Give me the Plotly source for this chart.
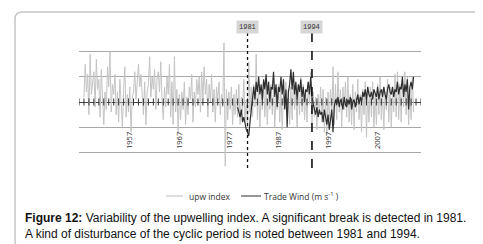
import plotly.graph_objects as go
import numpy as np

# ---------------- data (quarterly samples) ----------------
upw_start = 1948.0
upw_index = [
    0.2, 1.5, 0.4, 1.1,  -0.5, 1.9, 0.3, 0.8,  1.2, -0.2, 1.7, 0.5,  0.9, -0.6, 1.3, 0.2,
    -0.9, 0.4, -0.3, 1.4,  0.6, 2.0, -0.4, 0.7,  0.3, 1.1, -0.5, 0.4,  -0.8, 0.9, -0.2, -1.0,
    0.5, 1.4, -0.6, 0.3,  -0.4, 0.6, -1.2, 0.2,  0.4, 1.2, 0.1, 0.9,  1.5, 0.6, 1.1, 0.3,
    -0.5, 0.8, -0.9, 0.4,  0.7, 1.8, 0.2, 1.0,  0.5, 1.3, -0.3, 0.9,  1.2, 0.4, 1.6, 0.1,
    -0.7, 0.6, -0.2, 1.0,  0.3, 1.5, -0.6, 0.8,  -0.9, 1.8, -0.4, 0.5,  -1.2, 0.3, -0.7, 0.4,
    -0.3, 0.8, -0.9, 0.2,  -0.5, 0.6, 0.1, 1.1,  -0.8, 0.4, -0.2, 0.9,  0.3, 1.0, -0.4, 1.2,
    0.1, 1.4, 0.3, 0.9,  -0.6, 0.7, 0.0, 1.1,  -0.4, 0.5, -0.8, 0.6,  0.1, 0.8, -0.5, 0.3,
    -0.2, 2.35, -2.55, 0.5,  -0.7, 0.4, -0.3, 0.6,  -0.9, 0.3, -0.5, 0.5,  -0.6, 0.7, -0.9, 0.2,
    -0.4, 0.9, -0.8, 0.1,  -1.0, 1.6, -0.4, 0.6,  -0.6, 0.7, -0.2, 1.9,  -0.7, 0.5, -1.0, 0.3,
    -0.3, 0.8, -0.6, 0.5,  -0.9, 0.4, -0.3, 0.7,  -0.5, 0.6, -1.0, 0.2,  -0.3, 0.7, -0.8, 0.4,
    -1.1, 0.3, -0.2, 0.8,  -0.4, 0.5, -0.9, 0.6,  -0.7, 0.9, -0.3, 0.4,  -1.0, 0.6, -0.5, 1.0,
    -0.4, 0.7, -0.7, 0.3,  -0.8, 0.8, -0.1, 1.2,  -0.9, 0.4, -0.6, 0.2,  -1.1, 0.3, -0.5, 0.6,
    -0.8, 0.5, -1.2, 0.2,  -1.3, 0.4, -0.7, 0.5,  -0.5, 1.4, -0.9, 0.7,  -0.7, 1.2, -0.4, 0.5,
    -1.0, 0.6, -0.3, 0.8,  -0.6, 1.0, -0.8, 0.3,  -0.9, 0.7, -1.1, 0.4,  -0.4, 0.9, -0.7, 0.3,
    -1.2, 0.5, -0.5, 0.8,  -1.4, 0.4, -0.8, 0.6,  -0.6, 0.8, -1.0, 0.3,  -0.9, 0.7, -0.5, 1.0,
    -0.7, 0.5, -1.1, 0.4,  -0.3, 0.9, -0.8, 0.6,  -1.0, 0.4, -0.4, 1.1,  -0.6, 1.2, -0.7, 0.7,
    -0.8, 0.8, -0.2, 1.2,  -0.5, 1.0, -0.9, 0.5,  -0.7, 1.0, -0.4,
]
wind_start = 1979.0
trade_wind = [
    -0.2, -0.4, -0.6, -0.3,  -0.8, -0.6, -0.9, -1.1,  -1.2, -1.35, -0.8, -0.3,
    0.2, 0.6, 0.1, 0.8,  0.4, 1.0, 0.3, 0.7,  0.1, 0.9, 0.5, 1.1,  0.3, 0.8, 0.0, 0.6,
    0.5, 1.2, 0.2, 0.7,  -0.2, 0.6, 0.4, 1.0,  0.3, 0.9, -0.3, 0.5,  -1.0, 0.4, 0.7, 1.3,
    0.5, 1.2, 0.3, 0.8,  0.1, 0.7, 0.4, 0.9,  0.2, 0.6, 0.0, 0.5,  0.4, 0.8, 0.3, 1.0,
    0.2, -0.1, -0.3, -0.5,  -0.2, -0.6, -0.3, -0.5,  -0.4, -0.8, -0.3, -0.6,  -0.9, -0.5, -1.1, -0.7,
    -0.3, -1.2, -0.2, 0.1,  -0.1, 0.2, -0.2, 0.1,  0.0, -0.3, 0.2, -0.1,  -0.2, 0.1, -0.1, 0.2,
    -0.3, 0.0, 0.1, -0.2,  0.1, 0.3, -0.1, 0.2,  0.0, 0.4, 0.2, 0.5,  0.1, 0.6, 0.3, 0.2,
    0.4, 0.1, 0.5, 0.3,  0.2, 0.6, 0.1, 0.4,  0.5, 0.2, 0.6, 0.3,  0.1, 0.5, 0.7, 0.4,
    0.3, 0.6, 0.2, 0.5,  0.4, 0.8, 0.3, 0.6,  0.5, 1.0, 0.2, 0.7,  0.4, 0.9, -0.3, 0.6,
    0.8, 0.5, 1.0,
]
tick_labels = ["1957", "1967", "1977", "1987", "1997", "2007"]
break_years = [1981, 1994]
break_dash = ["dot", "dash"]
x_range = [1947, 2016]
y_range = [-3.02, 3.02]

upw_x = upw_start + 0.25 * np.arange(len(upw_index))
wind_x = wind_start + 0.25 * np.arange(len(trade_wind))

fig = go.Figure()
fig.add_trace(go.Scatter(x=upw_x, y=upw_index, mode="lines", name="upw index",
                         line=dict(color="#c4c4c4", width=1), showlegend=False))
fig.add_trace(go.Scatter(x=wind_x, y=trade_wind, mode="lines", name="Trade Wind (m s-1)",
                         line=dict(color="#2e2e2e", width=1.2), showlegend=False))
# cross tick marks on the zero axis (one per year)
years = list(range(x_range[0], x_range[1] + 1))
fig.add_trace(go.Scatter(x=years, y=[0] * len(years), mode="markers", showlegend=False,
                         hoverinfo="skip",
                         marker=dict(symbol="line-ns", size=5,
                                     line=dict(color="#333333", width=1))))

# plot area in pixels: x 71..413, y 18..170
L, R, T, B = 71, 413, 18, 170
W, H = 483, 244
def px(xp):
    return (xp - L) / (R - L)
def py(yp):
    return (B - yp) / (B - T)

shapes = []
for yr, d in zip(break_years, break_dash):
    shapes.append(dict(type="line", xref="x", yref="y", x0=yr, x1=yr, y0=-2.62, y1=2.8,
                       line=dict(color="#111111", width=1.3 if d == "dot" else 1.6, dash=d)))

# rounded outer frame
x0, x1, y0, y1, r = 7, 476, 4, 240, 7
def P(a, b):
    return f"{px(a):.5f},{py(b):.5f}"
path = (f"M {P(x0 + r, y0)} L {P(x1 - r, y0)} Q {P(x1, y0)} {P(x1, y0 + r)} "
        f"L {P(x1, y1 - r)} Q {P(x1, y1)} {P(x1 - r, y1)} L {P(x0 + r, y1)} "
        f"Q {P(x0, y1)} {P(x0, y1 - r)} L {P(x0, y0 + r)} Q {P(x0, y0)} {P(x0 + r, y0)} Z")
shapes.append(dict(type="path", xref="paper", yref="paper", path=path,
                   line=dict(color="#c6c6c6", width=1.5)))

# manual legend samples
shapes.append(dict(type="line", xref="paper", yref="paper", x0=px(158), x1=px(175),
                   y0=py(188), y1=py(188), line=dict(color="#bdbdbd", width=1)))
shapes.append(dict(type="line", xref="paper", yref="paper", x0=px(233), x1=px(253),
                   y0=py(188), y1=py(188), line=dict(color="#2e2e2e", width=1)))

annotations = []
for yr in break_years:
    annotations.append(dict(x=yr, y=3, xref="x", yref="y", text=str(yr), showarrow=False,
                            font=dict(family="Liberation Mono", size=7, color="#333333"),
                            bgcolor="#d6d6d6", borderpad=2))
annotations.append(dict(x=px(179), y=py(188), xref="paper", yref="paper", xanchor="left",
                        yanchor="middle", text="upw index", showarrow=False,
                        font=dict(family="Open Sans", size=8.5, color="#333333")))
annotations.append(dict(x=px(254), y=py(188), xref="paper", yref="paper", xanchor="left",
                        yanchor="middle", text="Trade Wind (m s<sup>-1</sup> )", showarrow=False,
                        font=dict(family="Open Sans", size=8.5, color="#333333")))
annotations.append(dict(x=px(15), y=py(217.5), xref="paper", yref="paper", xanchor="left",
                        yanchor="middle", align="left", showarrow=False,
                        text=("<b>Figure 12:</b> Variability of the upwelling index. "
                              "A significant break is detected in 1981.<br>"
                              "A kind of disturbance of the cyclic period is noted between 1981 and 1994."),
                        font=dict(family="Liberation Sans", size=12, color="#111111")))

fig.update_layout(
    width=W, height=H, margin=dict(l=L, r=W - R, t=T, b=H - B, autoexpand=False),
    paper_bgcolor="white", plot_bgcolor="white",
    shapes=shapes, annotations=annotations, showlegend=False,
    xaxis=dict(range=x_range, showgrid=False, zeroline=False, showline=False,
               anchor="free", position=1 / 3, automargin=False,
               tickmode="array",
               tickvals=[int(t) + 0.3 for t in tick_labels], ticktext=tick_labels,
               tickangle=-90, ticks="", ticklabelstandoff=2,
               tickfont=dict(family="Open Sans", size=7.5, color="#333333")),
    yaxis=dict(range=y_range, tickmode="linear", tick0=0, dtick=1, showticklabels=False,
               showgrid=True, automargin=False,
               gridcolor="#a8a8a8", gridwidth=1, zeroline=True,
               zerolinecolor="#444444", zerolinewidth=1),
)
fig.write_html("out.html")
